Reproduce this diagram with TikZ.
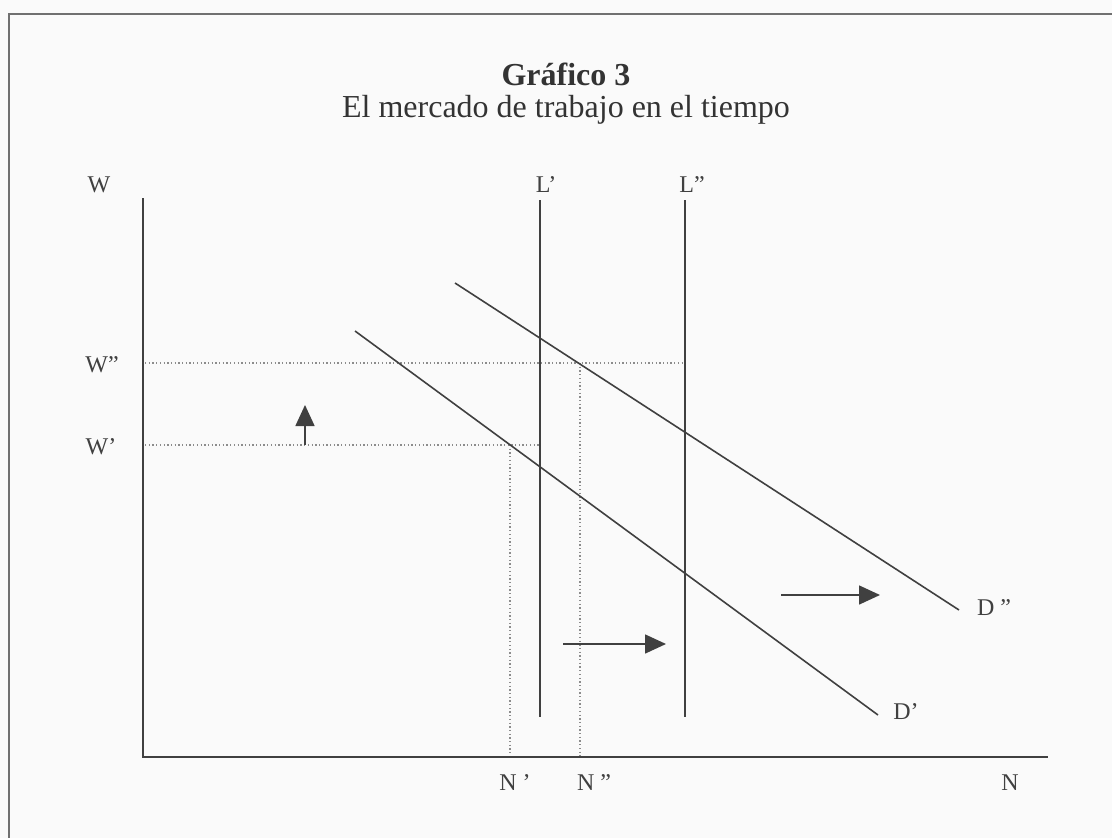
\documentclass[tikz,border=0pt]{standalone}
\usepackage{fontspec}
\setmainfont{Liberation Serif}
\usetikzlibrary{arrows.meta}
\definecolor{ink}{HTML}{404040}
\definecolor{paper}{HTML}{FAFAFA}
\definecolor{framec}{HTML}{707070}
\begin{document}
\begin{tikzpicture}[x=1pt,y=-1pt,
  frameline/.style={draw=framec, line width=2.2pt},
  curve/.style={draw=ink, line width=1.6pt},
  axisline/.style={draw=ink, line width=1.7pt},
  guide/.style={draw=ink!60, line width=1.3pt, dash pattern=on 1.3pt off 2.4pt},
  shiftarrow/.style={draw=ink, line width=1.6pt, -{Triangle[length=21pt,width=19pt]}},
  lbl/.style={text=ink, font=\fontsize{24}{28}\selectfont, inner sep=0pt},
  ttl/.style={text=ink!80!black, inner sep=0pt}]
\useasboundingbox (0,0) rectangle (1112,838);
\fill[paper] (0,0) rectangle (1112,838);
\draw[frameline] (9,838) -- (9,14) -- (1112,14);

% title
\node[ttl, font=\bfseries\fontsize{32}{36}\selectfont] (t1) at (566,74) {Gráfico 3};
\node[ttl, font=\fontsize{32}{36}\selectfont] (t2) at (566,110) {El mercado de trabajo en el tiempo};

% coordinates
\coordinate (O) at (143,757);
\coordinate (Ytop) at (143,198);
\coordinate (Xend) at (1048,757);
\coordinate (L1top) at (540,200);
\coordinate (L1bot) at (540,717);
\coordinate (L2top) at (685,200);
\coordinate (L2bot) at (685,717);
\coordinate (D1a) at (355,331);
\coordinate (D1b) at (878,715);
\coordinate (D2a) at (455,283);
\coordinate (D2b) at (959,610);
\coordinate (W2a) at (145,363);
\coordinate (W2b) at (685,363);
\coordinate (W1a) at (145,445);
\coordinate (W1b) at (540,445);
\coordinate (N1a) at (510,445);
\coordinate (N1b) at (510,757);
\coordinate (N2a) at (580,363);
\coordinate (N2b) at (580,757);
\coordinate (UpA) at (305,445);
\coordinate (UpB) at (305,405);
\coordinate (R1a) at (563,644);
\coordinate (R1b) at (666,644);
\coordinate (R2a) at (781,595);
\coordinate (R2b) at (880,595);

% guides
\draw[guide] (W2a) -- (W2b);
\draw[guide] (W1a) -- (W1b);
\draw[guide] (N1a) -- (N1b);
\draw[guide] (N2a) -- (N2b);

% axes
\draw[axisline] (Ytop) -- (O) -- (Xend);

% supply lines
\draw[curve] (L1top) -- (L1bot);
\draw[curve] (L2top) -- (L2bot);

% demand lines
\draw[curve] (D1a) -- (D1b);
\draw[curve] (D2a) -- (D2b);

% arrows
\draw[shiftarrow] (UpA) -- (UpB);
\draw[shiftarrow] (R1a) -- (R1b);
\draw[shiftarrow] (R2a) -- (R2b);

% labels
\node[lbl] (lw) at (99,185) {W};
\node[lbl] (lL1) at (546,185) {L’};
\node[lbl] (lL2) at (692,185) {L”};
\node[lbl] (lW2) at (102,365) {W”};
\node[lbl] (lW1) at (101,447) {W’};
\node[lbl] (lN1) at (515,783) {N ’};
\node[lbl] (lN2) at (594,783) {N ”};
\node[lbl] (lN) at (1010,783) {N};
\node[lbl] (lD1) at (906,712) {D’};
\node[lbl] (lD2) at (994,608) {D ”};
\end{tikzpicture}
\end{document}
